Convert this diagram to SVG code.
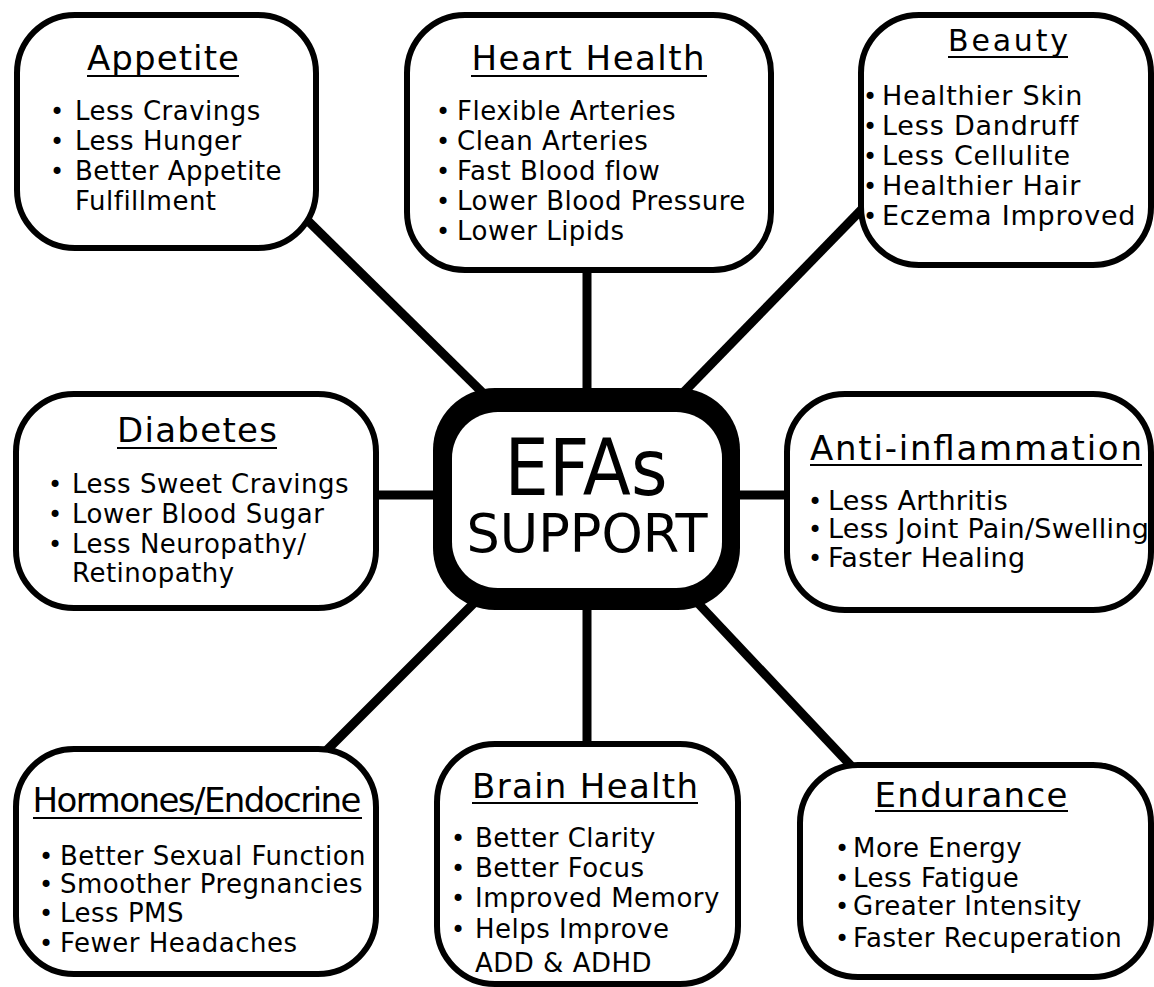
<svg xmlns="http://www.w3.org/2000/svg" width="1154" height="987" viewBox="0 0 1154 987">
<style>
.box{fill:#fff;stroke:#000;stroke-width:6}
.con{stroke:#000;stroke-width:9;fill:none}
.t{font-family:"DejaVu Sans",sans-serif;font-size:34px;fill:#000;text-anchor:middle}
.i{font-family:"DejaVu Sans",sans-serif;font-size:26px;letter-spacing:0.5px;fill:#000}
.b{font-size:24px;letter-spacing:0}
.u{stroke:#000;stroke-width:2}
.c{font-family:"DejaVu Sans",sans-serif;fill:#000;text-anchor:middle}
</style>
<rect width="1154" height="987" fill="#fff"/>
<g id="connectors">
<line class="con" x1="300" y1="213" x2="490" y2="400"/>
<line class="con" x1="587" y1="265" x2="587" y2="395"/>
<line class="con" x1="865" y1="206" x2="680" y2="396"/>
<line class="con" x1="370" y1="495" x2="440" y2="495"/>
<line class="con" x1="735" y1="495" x2="792" y2="495"/>
<line class="con" x1="320" y1="757" x2="480" y2="597"/>
<line class="con" x1="587" y1="605" x2="587" y2="750"/>
<line class="con" x1="695" y1="600" x2="855" y2="770"/>
</g>
<g id="appetite">
<rect class="box" x="17" y="15" width="299" height="233" rx="58"/>
<text class="t" x="163" y="70" textLength="152">Appetite</text>
<line class="u" x1="87" y1="76" x2="239" y2="76"/>
<text class="i"><tspan class="b" x="50" y="120">•</tspan><tspan x="75" y="120">Less Cravings</tspan><tspan class="b" x="50" y="150">•</tspan><tspan x="75" y="150">Less Hunger</tspan><tspan class="b" x="50" y="180">•</tspan><tspan x="75" y="180">Better Appetite</tspan><tspan x="75" y="210">Fulfillment</tspan></text>
</g>
<g id="heart">
<rect class="box" x="407" y="15" width="364" height="255" rx="58"/>
<text class="t" x="588" y="70" textLength="233">Heart Health</text>
<line class="u" x1="471" y1="76" x2="707" y2="76"/>
<text class="i"><tspan class="b" x="436" y="120">•</tspan><tspan x="457" y="120">Flexible Arteries</tspan><tspan class="b" x="436" y="150">•</tspan><tspan x="457" y="150">Clean Arteries</tspan><tspan class="b" x="436" y="180">•</tspan><tspan x="457" y="180">Fast Blood flow</tspan><tspan class="b" x="436" y="210">•</tspan><tspan x="457" y="210">Lower Blood Pressure</tspan><tspan class="b" x="436" y="240">•</tspan><tspan x="457" y="240">Lower Lipids</tspan></text>
</g>
<g id="beauty">
<rect class="box" x="861" y="15" width="290" height="250" rx="58"/>
<text class="t" x="1008" y="51" style="font-size:30px" textLength="120">Beauty</text>
<line class="u" x1="948" y1="57" x2="1068" y2="57"/>
<text class="i" style="font-size:27px;letter-spacing:0.8px"><tspan class="b" x="863" y="105">•</tspan><tspan x="882" y="105">Healthier Skin</tspan><tspan class="b" x="863" y="135">•</tspan><tspan x="882" y="135">Less Dandruff</tspan><tspan class="b" x="863" y="165">•</tspan><tspan x="882" y="165">Less Cellulite</tspan><tspan class="b" x="863" y="195">•</tspan><tspan x="882" y="195">Healthier Hair</tspan><tspan class="b" x="863" y="225">•</tspan><tspan x="882" y="225">Eczema Improved</tspan></text>
</g>
<g id="diabetes">
<rect class="box" x="16" y="394" width="360" height="214" rx="58"/>
<text class="t" x="197" y="442" textLength="160">Diabetes</text>
<line class="u" x1="117" y1="448" x2="277" y2="448"/>
<text class="i"><tspan class="b" x="48" y="493">•</tspan><tspan x="72" y="493">Less Sweet Cravings</tspan><tspan class="b" x="48" y="523">•</tspan><tspan x="72" y="523">Lower Blood Sugar</tspan><tspan class="b" x="48" y="553">•</tspan><tspan x="72" y="553">Less Neuropathy/</tspan><tspan x="72" y="582">Retinopathy</tspan></text>
</g>
<g id="center">
<rect x="433" y="388" width="307" height="222" rx="62" fill="#000"/>
<rect x="452" y="412" width="270" height="176" rx="46" fill="#fff"/>
<text class="c" x="586" y="495" style="font-size:78px" textLength="163" lengthAdjust="spacingAndGlyphs">EFAs</text>
<text class="c" x="587" y="552" style="font-size:54px" textLength="241" lengthAdjust="spacingAndGlyphs">SUPPORT</text>
</g>
<g id="antiinflammation">
<rect class="box" x="787" y="394" width="364" height="216" rx="58"/>
<text class="t" x="976" y="460" textLength="332">Anti-inflammation</text>
<line class="u" x1="810" y1="465" x2="1142" y2="465"/>
<text class="i" style="font-size:27px;letter-spacing:0.3px"><tspan class="b" x="808" y="510">•</tspan><tspan x="828" y="510">Less Arthritis</tspan><tspan class="b" x="808" y="538">•</tspan><tspan x="828" y="538">Less Joint Pain/Swelling</tspan><tspan class="b" x="808" y="567">•</tspan><tspan x="828" y="567">Faster Healing</tspan></text>
</g>
<g id="hormones">
<rect class="box" x="16" y="749" width="360" height="225" rx="58"/>
<text class="t" x="197" y="812" textLength="329">Hormones/Endocrine</text>
<line class="u" x1="33" y1="818" x2="362" y2="818"/>
<text class="i"><tspan class="b" x="39" y="865">•</tspan><tspan x="60" y="865">Better Sexual Function</tspan><tspan class="b" x="39" y="893">•</tspan><tspan x="60" y="893">Smoother Pregnancies</tspan><tspan class="b" x="39" y="922">•</tspan><tspan x="60" y="922">Less PMS</tspan><tspan class="b" x="39" y="952">•</tspan><tspan x="60" y="952">Fewer Headaches</tspan></text>
</g>
<g id="brain">
<rect class="box" x="437" y="744" width="301" height="240" rx="58"/>
<text class="t" x="585" y="798" textLength="226">Brain Health</text>
<line class="u" x1="472" y1="803" x2="698" y2="803"/>
<text class="i"><tspan class="b" x="451" y="847">•</tspan><tspan x="475" y="847">Better Clarity</tspan><tspan class="b" x="451" y="877">•</tspan><tspan x="475" y="877">Better Focus</tspan><tspan class="b" x="451" y="907">•</tspan><tspan x="475" y="907">Improved Memory</tspan><tspan class="b" x="451" y="938">•</tspan><tspan x="475" y="938">Helps Improve</tspan><tspan x="475" y="972">ADD &amp; ADHD</tspan></text>
</g>
<g id="endurance">
<rect class="box" x="800" y="765" width="351" height="212" rx="58"/>
<text class="t" x="971" y="807" textLength="193">Endurance</text>
<line class="u" x1="875" y1="811" x2="1068" y2="811"/>
<text class="i"><tspan class="b" x="835" y="857">•</tspan><tspan x="853" y="857">More Energy</tspan><tspan class="b" x="835" y="887">•</tspan><tspan x="853" y="887">Less Fatigue</tspan><tspan class="b" x="835" y="915">•</tspan><tspan x="853" y="915">Greater Intensity</tspan><tspan class="b" x="835" y="947">•</tspan><tspan x="853" y="947">Faster Recuperation</tspan></text>
</g>
</svg>
